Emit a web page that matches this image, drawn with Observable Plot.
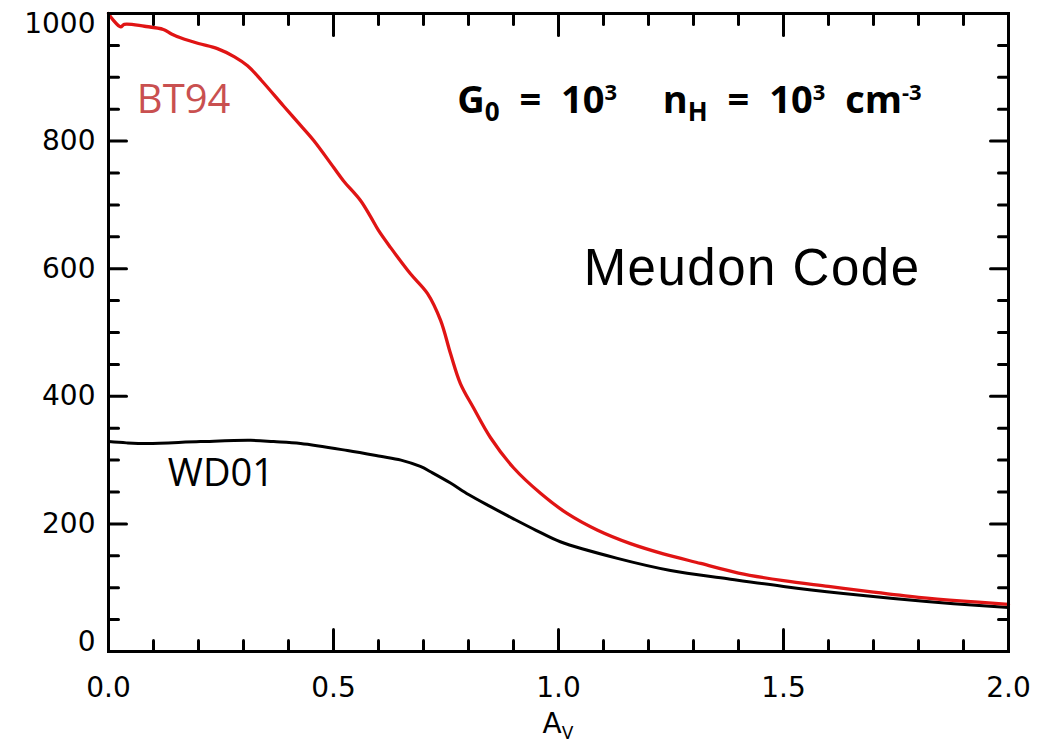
<!DOCTYPE html>
<html><head><meta charset="utf-8">
<script src="https://cdn.jsdelivr.net/npm/d3@7"></script>
<script src="https://cdn.jsdelivr.net/npm/@observablehq/plot@0.6"></script>
<style>body{margin:0;background:#fff;} svg{display:block;}</style>
</head><body><div id="chart"></div>
<script>
// ---- data ----
const avBT94 = [0, 0.01, 0.027, 0.035, 0.08, 0.122, 0.14, 0.16, 0.2, 0.242, 0.28, 0.309, 0.34, 0.389, 0.42, 0.456, 0.5, 0.522, 0.56, 0.582, 0.6, 0.627, 0.671, 0.709, 0.738, 0.76, 0.782, 0.811, 0.849, 0.9, 0.96, 1.02, 1.087, 1.16, 1.233, 1.316, 1.4, 1.5, 1.6, 1.7, 1.8, 1.9, 2.0];
const valBT94 = [1000, 990, 979, 983, 980, 975, 968, 962, 953, 945, 932, 918, 895, 855, 830, 801, 759, 738, 707, 682, 660, 633, 592, 561, 519, 467, 420, 382, 335, 288, 248, 216, 190, 169, 153, 138, 123, 111, 102, 93, 85, 79, 74];
const avWD01 = [0, 0.04, 0.087, 0.204, 0.316, 0.367, 0.427, 0.531, 0.604, 0.65, 0.693, 0.72, 0.76, 0.8, 0.849, 0.9, 0.95, 1.004, 1.131, 1.249, 1.376, 1.5, 1.633, 1.744, 1.878, 2.0];
const valWD01 = [329, 327, 326, 329, 331, 329, 326, 315, 306, 300, 290, 280, 264, 246, 227, 208, 190, 172, 146, 127, 114, 102, 91, 83, 75, 69];

const xMajorTicks = [0, 0.5, 1.0, 1.5, 2.0];
const xTickLabels = ["0.0", "0.5", "1.0", "1.5", "2.0"];
const xMinorTicks = [0.1, 0.2, 0.3, 0.4, 0.6, 0.7, 0.8, 0.9, 1.1, 1.2, 1.3, 1.4, 1.6, 1.7, 1.8, 1.9];
const yMajorTicks = [0, 200, 400, 600, 800, 1000];
const yTickLabels = ["0", "200", "400", "600", "800", "1000"];
const yMinorTicks = [50, 100, 150, 250, 300, 350, 450, 500, 550, 650, 700, 750, 850, 900, 950];

const seriesNames = ["BT94", "WD01"];
const seriesColors = ["#e01414", "#000000"];

const rows = [
  ...avBT94.map((a, i) => ({av: a, v: valBT94[i], s: "BT94"})),
  ...avWD01.map((a, i) => ({av: a, v: valWD01[i], s: "WD01"}))
];

const tickShape = {draw(ctx, l) { ctx.moveTo(0, 0); ctx.lineTo(0, -l); }};
const tk = (vals, ch, anchor, rot, len) => Plot.vector(vals, {
  [ch]: d => d, frameAnchor: anchor, rotate: rot, length: len, anchor: "start",
  shape: tickShape, stroke: "black", strokeWidth: 3
});
const yFmt = d => yTickLabels[yMajorTicks.indexOf(d)];

const FONT = "DejaVu Sans";
const plot = Plot.plot({
  width: 1064, height: 742,
  marginLeft: 108, marginRight: 56, marginTop: 13, marginBottom: 91,
  style: {fontFamily: FONT, background: "#fff", color: "#000"},
  x: {domain: [0, 2], axis: null},
  y: {domain: [0, 1000], axis: null},
  color: {domain: seriesNames, range: seriesColors},
  marks: [
    Plot.line(rows.filter(d => d.s === "WD01"), {x: "av", y: "v", stroke: "s", strokeWidth: 3, curve: "catmull-rom"}),
    Plot.line(rows.filter(d => d.s === "BT94"), {x: "av", y: "v", stroke: "s", strokeWidth: 3.3, curve: "catmull-rom"}),
    tk(xMajorTicks, "x", "bottom", 0, 22), tk(xMinorTicks, "x", "bottom", 0, 11),
    tk(xMajorTicks, "x", "top", 180, 22), tk(xMinorTicks, "x", "top", 180, 11),
    tk(yMajorTicks, "y", "left", 90, 18), tk(yMinorTicks, "y", "left", 90, 10),
    tk(yMajorTicks, "y", "right", -90, 18), tk(yMinorTicks, "y", "right", -90, 10),
    Plot.frame({stroke: "black", strokeWidth: 3}),
    Plot.axisX(xMajorTicks, {tickSize: 0, tickPadding: 26, fontSize: 28, label: null,
      tickFormat: d => xTickLabels[xMajorTicks.indexOf(d)]}),
    Plot.axisY(yMajorTicks.slice(1, -1), {tickSize: 0, tickPadding: 13, fontSize: 28, label: null, tickFormat: yFmt}),
    Plot.axisY([yMajorTicks[yMajorTicks.length - 1]], {tickSize: 0, tickPadding: 13, fontSize: 28, label: null, dy: 11, tickFormat: yFmt}),
    Plot.axisY([yMajorTicks[0]], {tickSize: 0, tickPadding: 13, fontSize: 28, label: null, dy: -9, tickFormat: yFmt})
  ]
});
document.getElementById("chart").append(plot);

// ---- annotations, positioned in data coordinates ----
const sx = plot.scale("x"), sy = plot.scale("y");
const fx = d3.scaleLinear(sx.domain, sx.range), fy = d3.scaleLinear(sy.domain, sy.range);
const svg = d3.select(plot);

function addText(av, v, parts, opts) {
  const t = svg.append("text")
    .attr("x", fx(av)).attr("y", fy(v))
    .attr("font-family", opts.family).attr("font-size", opts.size)
    .attr("font-weight", opts.weight || "normal")
    .attr("fill", opts.fill || "#000")
    .attr("text-anchor", opts.anchor || "start")
    .attr("letter-spacing", opts.ls || 0)
    .attr("word-spacing", opts.ws || 0)
    .style("white-space", "pre");
  let shift = 0;
  for (const p of parts) {
    const want = p.shift || 0;
    const ts = t.append("tspan").attr("dy", want - shift).attr("font-size", p.size || opts.size).text(p.t);
    if (p.dx) ts.attr("dx", p.dx);
    shift = want;
  }
  return t;
}

addText(0.064, 843, [{t: "BT94"}], {family: "Open Sans", size: 40, fill: "#c95050"});
addText(0.133, 259, [{t: "WD01"}], {family: "Open Sans", size: 38, fill: "#000"});
addText(1.057, 574, [{t: "Meudon Code"}], {family: "Liberation Sans", size: 51, ls: 1.5});
addText(0.776, 843, [
  {t: "G"}, {t: "0", size: 26, shift: 8}, {t: " = 10"}, {t: "3", size: 22, shift: -13},
  {t: "  n", dx: 6}, {t: "H", size: 26, shift: 8}, {t: " = 10"}, {t: "3", size: 22, shift: -13},
  {t: " cm"}, {t: "-3", size: 22, shift: -13}
], {family: "Open Sans", size: 38, weight: "bold", ws: 10});
addText(1.0, -128, [{t: "A"}, {t: "V", size: 17, shift: 6}], {family: FONT, size: 28, anchor: "middle"});
</script>
</body></html>
